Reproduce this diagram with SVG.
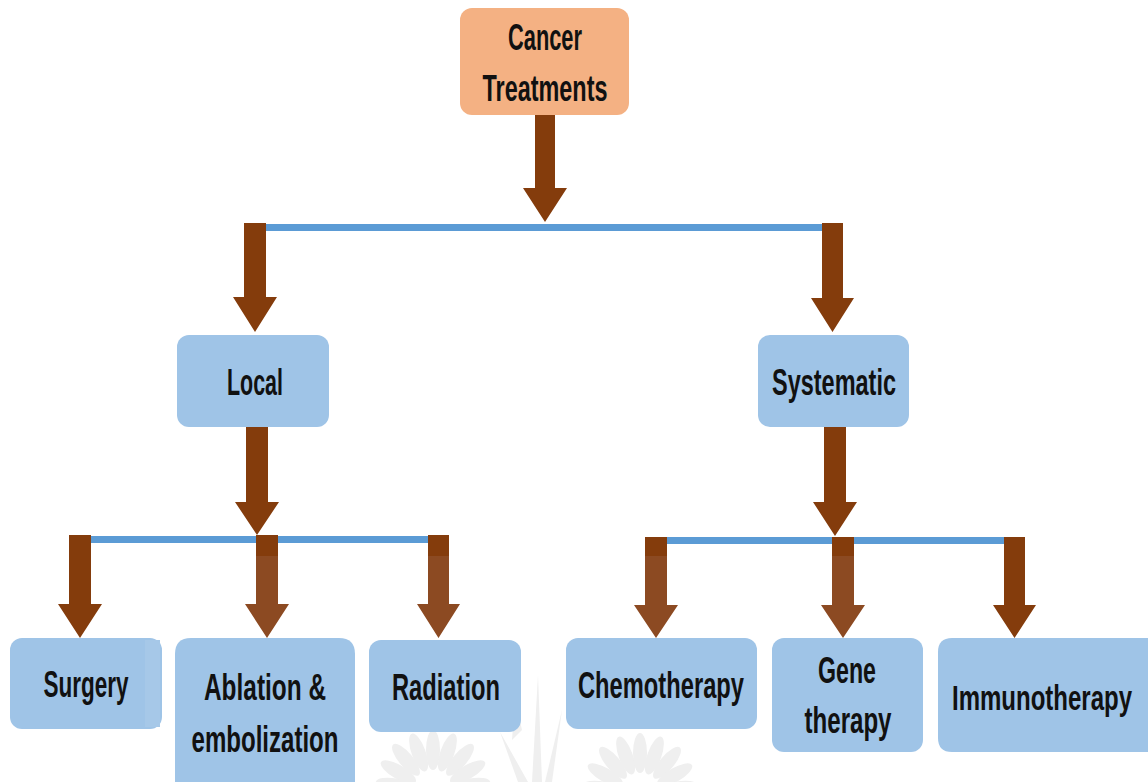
<svg xmlns="http://www.w3.org/2000/svg" width="1148" height="782" viewBox="0 0 1148 782">
<defs>
<style>
.box{fill:#9FC4E7;}
.root{fill:#F4B183;}
.lbl{font-family:"Liberation Sans",Arial,sans-serif;font-weight:bold;font-size:36px;fill:#111;text-anchor:middle;}
.arr{fill:#843C0C;}
.arr2{fill:#8C4A22;}
.bar{fill:#5B9BD5;}
.wm{fill:#EFEFEF;}
</style>
</defs>
<rect width="1148" height="782" fill="#FFFFFF"/>

<g id="watermark">
<g transform="translate(433,792)">
<ellipse class="wm" cx="0" cy="-38" rx="7" ry="20" transform="rotate(-80)"/>
<ellipse class="wm" cx="0" cy="-40" rx="7" ry="20" transform="rotate(-60)"/>
<ellipse class="wm" cx="0" cy="-42" rx="7" ry="20" transform="rotate(-40)"/>
<ellipse class="wm" cx="0" cy="-42" rx="7" ry="20" transform="rotate(-20)"/>
<ellipse class="wm" cx="0" cy="-42" rx="7" ry="20" transform="rotate(0)"/>
<ellipse class="wm" cx="0" cy="-42" rx="7" ry="20" transform="rotate(20)"/>
<ellipse class="wm" cx="0" cy="-42" rx="7" ry="20" transform="rotate(40)"/>
<ellipse class="wm" cx="0" cy="-40" rx="7" ry="20" transform="rotate(60)"/>
<ellipse class="wm" cx="0" cy="-38" rx="7" ry="20" transform="rotate(80)"/>
</g>
<g transform="translate(640,795)">
<ellipse class="wm" cx="0" cy="-38" rx="7" ry="20" transform="rotate(-80)"/>
<ellipse class="wm" cx="0" cy="-40" rx="7" ry="20" transform="rotate(-60)"/>
<ellipse class="wm" cx="0" cy="-42" rx="7" ry="20" transform="rotate(-40)"/>
<ellipse class="wm" cx="0" cy="-42" rx="7" ry="20" transform="rotate(-20)"/>
<ellipse class="wm" cx="0" cy="-42" rx="7" ry="20" transform="rotate(0)"/>
<ellipse class="wm" cx="0" cy="-42" rx="7" ry="20" transform="rotate(20)"/>
<ellipse class="wm" cx="0" cy="-42" rx="7" ry="20" transform="rotate(40)"/>
<ellipse class="wm" cx="0" cy="-40" rx="7" ry="20" transform="rotate(60)"/>
<ellipse class="wm" cx="0" cy="-38" rx="7" ry="20" transform="rotate(80)"/>
</g>
<polygon class="wm" points="538,675 542,782 532,782"/>
<polygon class="wm" points="500,732 528,782 518,782"/>
<polygon class="wm" points="562,710 552,782 545,782"/>
<polygon class="wm" points="515,700 522,730 512,740"/>
</g>

<g id="connectors">
<rect class="bar" x="265" y="224" width="558" height="7"/>
<rect class="bar" x="90" y="536" width="340" height="7"/>
<rect class="bar" x="666" y="537" width="340" height="7"/>
<polygon class="arr" points="535,115 555,115 555,188 567,188 545,222 523,188 535,188"/>
<polygon class="arr" points="244,223 266,223 266,297 277,297 255,332 233,297 244,297"/>
<polygon class="arr" points="822,223 843,223 843,298 854,298 832.5,332 811,298 822,298"/>
<polygon class="arr" points="246,427 268,427 268,502 279,502 257,535 235,502 246,502"/>
<polygon class="arr" points="824,427 846,427 846,502 857,502 835,536 813,502 824,502"/>
<polygon class="arr" points="69,535 91,535 91,604 102,604 80,638 58,604 69,604"/>
<polygon class="arr2" points="256,535 278,535 278,604 289,604 267,638 245,604 256,604"/>
<rect class="arr" x="256" y="535" width="22" height="21"/>
<polygon class="arr2" points="428,535 449,535 449,604 460,604 438.5,638 417,604 428,604"/>
<rect class="arr" x="428" y="535" width="21" height="21"/>
<polygon class="arr2" points="645,537 667,537 667,605 678,605 656,638 634,605 645,605"/>
<rect class="arr" x="645" y="537" width="22" height="19"/>
<polygon class="arr2" points="832,537 854,537 854,605 865,605 843,638 821,605 832,605"/>
<rect class="arr" x="832" y="537" width="22" height="19"/>
<polygon class="arr" points="1004,537 1025,537 1025,605 1036,605 1014.5,638 993,605 1004,605"/>
</g>

<g id="node-cancer">
<rect class="root" x="460" y="8" width="169" height="107" rx="12"/>
<text class="lbl" x="545" y="50" textLength="74" lengthAdjust="spacingAndGlyphs">Cancer</text>
<text class="lbl" x="545" y="101" textLength="125" lengthAdjust="spacingAndGlyphs">Treatments</text>
</g>
<g id="node-local">
<rect class="box" x="177" y="335" width="152" height="92" rx="12"/>
<text class="lbl" x="255" y="395" textLength="56" lengthAdjust="spacingAndGlyphs">Local</text>
</g>
<g id="node-systematic">
<rect class="box" x="758" y="335" width="151" height="92" rx="12"/>
<text class="lbl" x="834" y="395" textLength="124" lengthAdjust="spacingAndGlyphs">Systematic</text>
</g>
<g id="node-surgery">
<rect class="box" x="10" y="638" width="152" height="91" rx="12"/>
<rect x="145" y="640" width="15" height="87" fill="#A6C8E8"/>
<text class="lbl" x="86" y="697" textLength="85" lengthAdjust="spacingAndGlyphs">Surgery</text>
</g>
<g id="node-ablation">
<path class="box" d="M191,638 H339 Q355,638 355,654 V782 H175 V654 Q175,638 191,638 Z"/>
<text class="lbl" x="265" y="700" textLength="122" lengthAdjust="spacingAndGlyphs">Ablation &amp;</text>
<text class="lbl" x="265" y="752" textLength="147" lengthAdjust="spacingAndGlyphs">embolization</text>
</g>
<g id="node-radiation">
<rect class="box" x="369" y="640" width="152" height="92" rx="12"/>
<text class="lbl" x="446" y="700" textLength="108" lengthAdjust="spacingAndGlyphs">Radiation</text>
</g>
<g id="node-chemotherapy">
<rect class="box" x="566" y="638" width="191" height="91" rx="12"/>
<text class="lbl" x="661" y="698" textLength="166" lengthAdjust="spacingAndGlyphs">Chemotherapy</text>
</g>
<g id="node-gene">
<rect class="box" x="772" y="638" width="151" height="114" rx="12"/>
<text class="lbl" x="847" y="683" textLength="58" lengthAdjust="spacingAndGlyphs">Gene</text>
<text class="lbl" x="848" y="733" textLength="87" lengthAdjust="spacingAndGlyphs">therapy</text>
</g>
<g id="node-immunotherapy">
<path class="box" d="M952,638 H1148 V752 H952 Q938,752 938,738 V652 Q938,638 952,638 Z"/>
<g transform="translate(1042,710) scale(1,1.5)">
<text class="lbl" x="0" y="0" style="font-size:24px" textLength="180" lengthAdjust="spacingAndGlyphs">Immunotherapy</text>
</g>
</g>
</svg>
